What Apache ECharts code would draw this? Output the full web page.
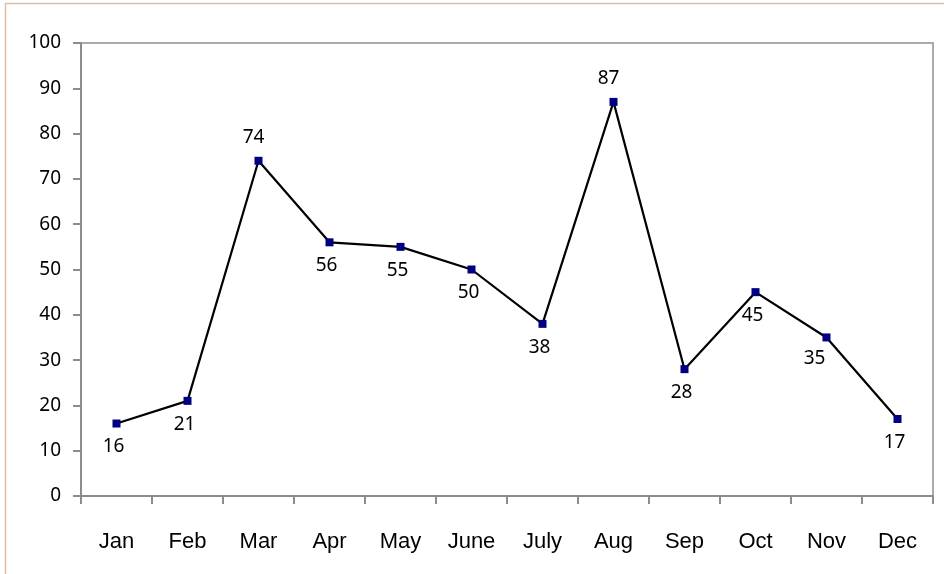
<!DOCTYPE html>
<html>
<head>
<meta charset="utf-8">
<script src="https://cdn.jsdelivr.net/npm/echarts@6/dist/echarts.min.js"></script>
<style>
  html, body { margin: 0; padding: 0; background: #fff; }
  #chart { width: 944px; height: 574px; }
</style>
</head>
<body>
<div id="chart"></div>
<script>
const months = ['Jan', 'Feb', 'Mar', 'Apr', 'May', 'June', 'July', 'Aug', 'Sep', 'Oct', 'Nov', 'Dec'];
const values = [16, 21, 74, 56, 55, 50, 38, 87, 28, 45, 35, 17];
const yTicks = [0, 10, 20, 30, 40, 50, 60, 70, 80, 90, 100];

// where each value label sits relative to its point
const labelPlace = ['bottom', 'bottom', 'top', 'bottom', 'bottom', 'bottom', 'bottom', 'top', 'bottom', 'bottom', 'left', 'bottom'];

const numFont = 'Noto Sans';

const chart = echarts.init(document.getElementById('chart'));

const seriesData = values.map((v, i) => {
	const pos = labelPlace[i];
	let label;
	if (pos === 'left') {
		label = { position: 'bottom', offset: [-12, -2] };
	} else if (pos === 'top') {
		label = { position: 'top', offset: [-5, 0] };
	} else {
		label = { position: 'bottom', offset: [-3, 0] };
	}
	return { value: v, label };
});

chart.setOption({
	animation: false,
	backgroundColor: '#fff',
	graphic: [{
		type: 'rect',
		shape: { x: 5.5, y: 3.5, width: 1000, height: 1000 },
		style: { fill: 'none', stroke: '#dcbfa8', lineWidth: 1.5 },
		silent: true
	}],
	grid: {
		left: 81,
		right: 11,
		top: 43,
		bottom: 78,
		show: true,
		borderColor: '#aaaaaa',
		borderWidth: 2
	},
	xAxis: {
		type: 'category',
		data: months,
		boundaryGap: true,
		axisLine: { lineStyle: { color: '#8c8c8c', width: 2 } },
		axisTick: { show: true, inside: false, length: 8, lineStyle: { color: '#8c8c8c', width: 2 } },
		axisLabel: {
			margin: 35,
			color: '#000',
			fontFamily: 'Liberation Sans',
			fontSize: 22
		},
		splitLine: { show: false }
	},
	yAxis: {
		type: 'value',
		min: yTicks[0],
		max: yTicks[yTicks.length - 1],
		interval: 10,
		axisLine: { show: true, lineStyle: { color: '#8c8c8c', width: 2 } },
		axisTick: { show: true, inside: false, length: 8, lineStyle: { color: '#8c8c8c', width: 2 } },
		axisLabel: {
			margin: 20,
			color: '#000',
			fontFamily: numFont,
			fontSize: 19
		},
		splitLine: { show: false }
	},
	series: [{
		type: 'line',
		data: seriesData,
		symbol: 'rect',
		symbolSize: 8,
		itemStyle: { color: '#000080' },
		lineStyle: { color: '#000', width: 2.2 },
		label: {
			show: true,
			distance: 10,
			color: '#000',
			fontFamily: numFont,
			fontSize: 19
		}
	}]
});
</script>
</body>
</html>
